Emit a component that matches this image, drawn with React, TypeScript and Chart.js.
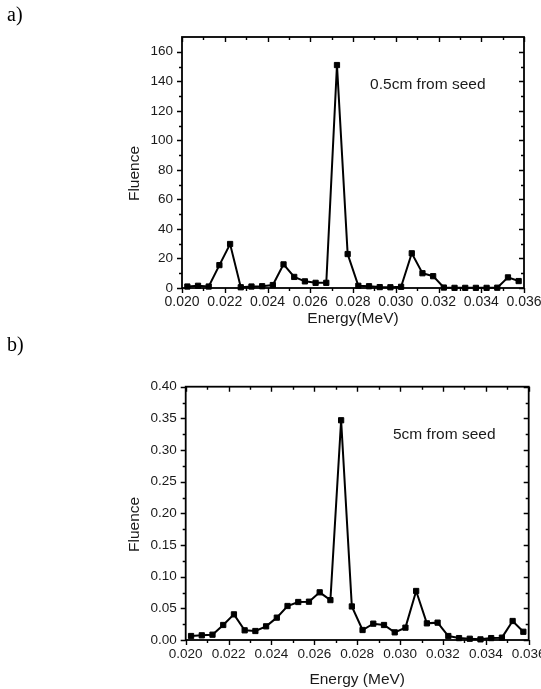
import { useEffect, useRef } from "react";
import { Chart, registerables } from "chart.js";

Chart.register(...registerables);

// Energy bins (MeV)
const energy = [
  0.02025, 0.02075, 0.02125, 0.02175, 0.02225, 0.02275, 0.02325, 0.02375,
  0.02425, 0.02475, 0.02525, 0.02575, 0.02625, 0.02675, 0.02725, 0.02775,
  0.02825, 0.02875, 0.02925, 0.02975, 0.03025, 0.03075, 0.03125, 0.03175,
  0.03225, 0.03275, 0.03325, 0.03375, 0.03425, 0.03475, 0.03525, 0.03575,
];

// a) 0.5cm from seed
const fluenceA = [
  1.0, 1.5, 1.0, 15.5, 29.8, 0.5, 1.0, 1.2,
  2.0, 16.0, 7.5, 4.5, 3.5, 3.5, 151.0, 23.0,
  1.5, 1.2, 0.6, 0.5, 0.8, 23.5, 10.0, 8.0,
  0.3, 0.1, 0.1, 0.1, 0.1, 0.2, 7.2, 4.7,
];

// b) 5cm from seed
const fluenceB = [
  0.0063, 0.0074, 0.0084, 0.0237, 0.0405, 0.0153, 0.0142, 0.0216,
  0.0353, 0.0537, 0.060, 0.0605, 0.0753, 0.063, 0.347, 0.053,
  0.0158, 0.0258, 0.0237, 0.0121, 0.0195, 0.0774, 0.0263, 0.0274,
  0.0063, 0.003, 0.002, 0.001, 0.003, 0.0037, 0.030, 0.013,
];

const xTicks = [0.020, 0.022, 0.024, 0.026, 0.028, 0.030, 0.032, 0.034, 0.036];
const yTicksA = [0, 20, 40, 60, 80, 100, 120, 140, 160];
const yTicksB = [0, 0.05, 0.1, 0.15, 0.2, 0.25, 0.3, 0.35, 0.4];

const SANS = '"Liberation Sans", Arial, sans-serif';
const INK = "#1a1a1a";

const framePlugin = {
  id: "frame",
  afterDraw(chart: any, _args: any, opts: any) {
    const { ctx, chartArea: a, scales } = chart;
    const x = scales.x;
    const y = scales.y;
    ctx.save();
    ctx.strokeStyle = "#000";
    ctx.lineWidth = 1.8;
    ctx.strokeRect(a.left, a.top, a.right - a.left, a.bottom - a.top);

    const major = 5;
    const minor = 3;
    const mids = (arr: number[]) =>
      arr.slice(0, -1).map((v, i) => (v + arr[i + 1]) / 2);

    ctx.lineWidth = 1.4;
    ctx.beginPath();
    const xMaj: number[] = opts.xMajor;
    const yMaj: number[] = opts.yMajor;
    const drawX = (vals: number[], len: number) => {
      vals.forEach((v) => {
        const px = Math.round(x.getPixelForValue(v)) + 0.5;
        ctx.moveTo(px, a.bottom);
        ctx.lineTo(px, a.bottom + len);
        ctx.moveTo(px, a.top);
        ctx.lineTo(px, a.top + len);
      });
    };
    const drawY = (vals: number[], len: number) => {
      vals.forEach((v) => {
        const py = Math.round(y.getPixelForValue(v)) + 0.5;
        ctx.moveTo(a.left, py);
        ctx.lineTo(a.left - len, py);
        ctx.moveTo(a.right, py);
        ctx.lineTo(a.right - len, py);
      });
    };
    drawX(xMaj, major);
    drawX(mids(xMaj), minor);
    drawY(yMaj, major);
    drawY(mids(yMaj), minor);
    ctx.stroke();

    ctx.fillStyle = INK;
    ctx.font = `15.5px ${SANS}`;
    ctx.textAlign = "left";
    ctx.textBaseline = "middle";
    ctx.fillText(opts.note, x.getPixelForValue(opts.noteX), y.getPixelForValue(opts.noteY));

    ctx.save();
    ctx.translate(opts.yTitleX, (a.top + a.bottom) / 2 + opts.yTitleShift);
    ctx.rotate(-Math.PI / 2);
    ctx.textAlign = "center";
    ctx.fillText("Fluence", 0, 0);
    ctx.restore();
    ctx.restore();
  },
};

type PanelProps = {
  top: number;
  height: number;
  values: number[];
  yMax: number;
  yTicks: number[];
  yDecimals: number;
  padL: number;
  padR: number;
  padT: number;
  yWidth: number;
  xHeight: number;
  xTickSize: number;
  yTickSize: number;
  xTitle: string;
  xTitleBottom: number;
  note: string;
  noteX: number;
  noteY: number;
};

function Panel(p: PanelProps) {
  const ref = useRef<HTMLCanvasElement | null>(null);
  useEffect(() => {
    if (!ref.current) return;
    const chart = new Chart(ref.current, {
      type: "line",
      data: {
        datasets: [
          {
            data: energy.map((e, i) => ({ x: e, y: p.values[i] })),
            borderColor: "#000",
            borderWidth: 2,
            backgroundColor: "#000",
            pointStyle: "rect",
            pointRadius: 3.7,
            pointBorderWidth: 1,
            pointBackgroundColor: "#000",
            pointBorderColor: "#000",
            tension: 0,
            clip: false as any,
          },
        ],
      },
      options: {
        animation: false,
        responsive: false,
        maintainAspectRatio: false,
        layout: { padding: { left: p.padL, right: p.padR, top: p.padT, bottom: 0 } },
        plugins: {
          legend: { display: false },
          tooltip: { enabled: false },
          frame: {
            xMajor: xTicks,
            yMajor: p.yTicks,
            note: p.note,
            noteX: p.noteX,
            noteY: p.noteY,
            yTitleX: 135,
            yTitleShift: 11,
          },
        } as any,
        scales: {
          x: {
            type: "linear",
            min: 0.02,
            max: 0.036,
            grid: { display: false, drawTicks: false },
            border: { display: false },
            afterBuildTicks: (s: any) => {
              s.ticks = xTicks.map((v) => ({ value: v }));
            },
            afterFit: (s: any) => {
              s.height = p.xHeight;
              s.paddingLeft = 0;
              s.paddingRight = 0;
            },
            ticks: {
              padding: 6,
              autoSkip: false,
              maxRotation: 0,
              color: INK,
              font: { family: SANS, size: p.xTickSize },
              callback: (v: any) => Number(v).toFixed(3),
            },
            title: {
              display: true,
              text: p.xTitle,
              color: INK,
              font: { family: SANS, size: 15.5 },
              padding: { top: 0, bottom: p.xTitleBottom },
            },
          },
          y: {
            type: "linear",
            min: 0,
            max: p.yMax,
            grid: { display: false, drawTicks: false },
            border: { display: false },
            afterBuildTicks: (s: any) => {
              s.ticks = p.yTicks.map((v) => ({ value: v }));
            },
            afterFit: (s: any) => {
              s.width = p.yWidth;
            },
            ticks: {
              padding: 9,
              color: INK,
              font: { family: SANS, size: p.yTickSize },
              callback: (v: any) => Number(v).toFixed(p.yDecimals),
            },
          },
        },
      },
      plugins: [framePlugin as any],
    });
    return () => chart.destroy();
  }, []);
  return (
    <canvas
      ref={ref}
      width={541}
      height={p.height}
      style={{ position: "absolute", left: 0, top: p.top, display: "block" }}
    />
  );
}

const labelStyle: any = {
  position: "absolute",
  left: 7,
  fontFamily: '"Liberation Serif", "Times New Roman", serif',
  fontSize: 20,
  lineHeight: "20px",
  color: "#000",
};

export default function App() {
  return (
    <div
      style={{
        position: "absolute",
        left: 0,
        top: 0,
        width: 541,
        height: 689,
        background: "#fff",
        overflow: "hidden",
      }}
    >
      <Panel
        top={0}
        height={335}
        values={fluenceA}
        yMax={170}
        yTicks={yTicksA}
        yDecimals={0}
        padL={120}
        padR={17}
        padT={37}
        yWidth={62}
        xHeight={47}
        xTickSize={14}
        yTickSize={13.5}
        xTitle="Energy(MeV)"
        xTitleBottom={7}
        note="0.5cm from seed"
        noteX={0.0288}
        noteY={138}
      />
      <Panel
        top={335}
        height={354}
        values={fluenceB}
        yMax={0.4}
        yTicks={yTicksB}
        yDecimals={2}
        padL={120}
        padR={12.3}
        padT={51.7}
        yWidth={65.7}
        xHeight={49}
        xTickSize={13.5}
        yTickSize={13.5}
        xTitle="Energy (MeV)"
        xTitleBottom={0}
        note="5cm from seed"
        noteX={0.02967}
        noteY={0.324}
      />
      <div style={{ ...labelStyle, top: 4 }}>a)</div>
      <div style={{ ...labelStyle, top: 334 }}>b)</div>
    </div>
  );
}
